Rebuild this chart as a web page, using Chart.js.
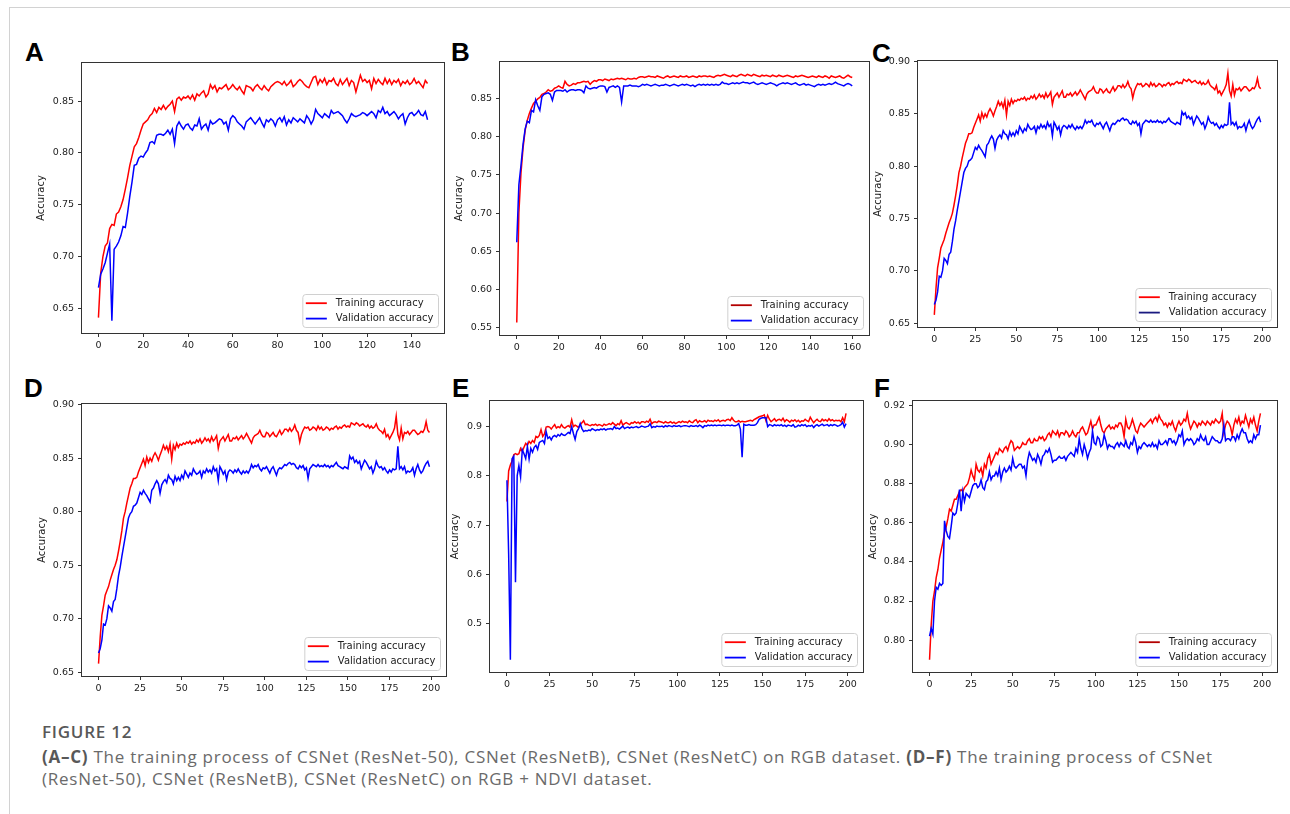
<!DOCTYPE html>
<html>
<head>
<meta charset="utf-8">
<title>Figure 12</title>
<script src="https://cdn.jsdelivr.net/npm/chart.js@4.4.1/dist/chart.umd.min.js"></script>
<style>
  html, body { margin: 0; padding: 0; background: #fff; }
  body { width: 1290px; height: 814px; position: relative; overflow: hidden; }
  .rule-top { position: absolute; left: 9px; top: 7px; width: 1281px; height: 1px; background: #d2d2d2; }
  .rule-left { position: absolute; left: 9px; top: 7px; width: 1px; height: 807px; background: #d2d2d2; }
  canvas { position: absolute; }
  .letter { position: absolute; font: bold 26px "Liberation Sans", Arial, sans-serif; line-height: 26px; color: #000; }
  .caption { position: absolute; left: 42px; font-family: "Open Sans", sans-serif; font-size: 17px; line-height: 22px; letter-spacing: 0.75px; color: #6a6a6a; white-space: nowrap; }
  .caption b { color: #585858; font-weight: 700; }
  .fig-no { font-weight: 600; color: #585858; }
</style>
</head>
<body>
<div class="rule-top"></div>
<div class="rule-left"></div>

<div class="letter" style="left:25px;top:39px">A</div>
<div class="letter" style="left:451px;top:39px">B</div>
<div class="letter" style="left:872px;top:40px">C</div>
<div class="letter" style="left:24px;top:375px">D</div>
<div class="letter" style="left:452px;top:375px">E</div>
<div class="letter" style="left:874px;top:375px">F</div>

<canvas id="chart-a"></canvas>
<canvas id="chart-b"></canvas>
<canvas id="chart-c"></canvas>
<canvas id="chart-d"></canvas>
<canvas id="chart-e"></canvas>
<canvas id="chart-f"></canvas>

<div class="caption fig-no" style="top:721px">FIGURE 12</div>
<div class="caption" style="top:746px"><b>(A–C)</b> The training process of CSNet (ResNet-50), CSNet (ResNetB), CSNet (ResNetC) on RGB dataset. <b>(D–F)</b> The training process of CSNet<br>(ResNet-50), CSNet (ResNetB), CSNet (ResNetC) on RGB + NDVI dataset.</div>

<script>
'use strict';

// accuracy per epoch
var aTrain = [.641,.684,.700,.710,.713,.727,.731,.730,.741,.743,
    .748,.755,.765,.776,.788,.797,.806,.809,.815,.822,
    .828,.830,.832,.836,.838,.843,.839,.844,.842,.846,
    .842,.845,.847,.850,.840,.852,.854,.851,.854,.853,
    .855,.852,.856,.851,.857,.855,.858,.860,.854,.857,
    .866,.862,.865,.859,.863,.862,.864,.866,.861,.863,
    .866,.863,.861,.864,.860,.857,.865,.864,.863,.860,
    .864,.866,.863,.861,.865,.862,.860,.864,.866,.868,
    .869,.868,.866,.869,.865,.867,.870,.864,.866,.869,
    .871,.869,.866,.864,.863,.868,.873,.874,.866,.871,
    .868,.872,.866,.870,.869,.872,.867,.865,.871,.866,
    .869,.872,.865,.870,.868,.859,.867,.875,.869,.871,
    .868,.870,.862,.872,.867,.871,.868,.866,.872,.867,
    .871,.866,.870,.868,.871,.865,.869,.867,.870,.866,
    .868,.872,.867,.869,.866,.863,.870,.867];
var aVal = [.670,.683,.688,.694,.703,.712,.638,.707,.710,.714,
    .720,.729,.728,.742,.758,.772,.788,.789,.795,.797,
    .796,.800,.803,.810,.811,.809,.817,.818,.818,.817,
    .819,.822,.818,.823,.809,.826,.830,.826,.823,.827,
    .828,.824,.822,.827,.826,.833,.823,.826,.828,.822,
    .831,.828,.829,.831,.833,.832,.828,.830,.822,.833,
    .836,.834,.830,.828,.826,.823,.830,.832,.834,.831,
    .828,.831,.834,.829,.825,.832,.830,.833,.831,.826,
    .832,.834,.830,.835,.827,.832,.829,.834,.832,.830,
    .833,.831,.829,.836,.833,.828,.832,.842,.838,.836,
    .834,.838,.836,.834,.841,.838,.839,.840,.838,.836,
    .832,.829,.833,.838,.836,.835,.836,.837,.839,.838,
    .836,.838,.840,.838,.834,.841,.839,.844,.838,.840,
    .836,.838,.840,.837,.833,.836,.838,.828,.834,.838,
    .839,.836,.838,.841,.837,.836,.840,.832];

var bTrain = [.557,.700,.752,.785,.808,.821,.830,.837,.843,.846,
    .849,.851,.855,.856,.858,.861,.859,.860,.863,.864,
    .866,.864,.863,.872,.868,.866,.867,.869,.868,.870,
    .870,.871,.872,.871,.872,.868,.871,.873,.872,.874,
    .874,.873,.875,.874,.873,.875,.874,.875,.876,.875,
    .876,.875,.874,.876,.875,.875,.876,.875,.877,.878,
    .878,.877,.878,.879,.878,.878,.877,.879,.878,.877,
    .876,.878,.879,.877,.878,.879,.878,.877,.879,.878,
    .878,.879,.877,.878,.879,.878,.877,.879,.878,.879,
    .879,.878,.879,.878,.877,.879,.880,.879,.880,.881,
    .880,.879,.878,.880,.879,.878,.880,.881,.880,.879,
    .881,.880,.879,.881,.880,.879,.878,.880,.879,.880,
    .879,.878,.880,.879,.878,.880,.879,.878,.879,.880,
    .879,.878,.877,.879,.878,.879,.880,.879,.878,.877,
    .878,.879,.878,.877,.879,.878,.877,.879,.878,.876,
    .879,.878,.877,.878,.879,.877,.876,.878,.880,.878,.877];
var bVal = [.662,.737,.762,.790,.810,.820,.818,.834,.832,.848,
    .840,.834,.852,.855,.856,.857,.855,.847,.858,.860,
    .860,.860,.859,.861,.858,.860,.861,.861,.860,.861,
    .861,.860,.857,.866,.863,.862,.863,.864,.863,.865,
    .866,.866,.865,.858,.864,.865,.866,.864,.866,.864,
    .845,.866,.866,.866,.867,.866,.866,.866,.865,.866,
    .868,.867,.868,.867,.866,.867,.868,.867,.866,.867,
    .867,.868,.867,.866,.867,.868,.867,.866,.867,.868,
    .867,.868,.867,.866,.867,.865,.867,.868,.867,.868,
    .867,.868,.867,.868,.867,.868,.867,.868,.871,.869,
    .869,.868,.869,.870,.869,.870,.869,.870,.871,.870,
    .870,.869,.870,.871,.869,.868,.869,.870,.869,.868,
    .869,.870,.869,.868,.866,.868,.869,.870,.869,.870,
    .869,.868,.869,.870,.868,.867,.868,.869,.867,.868,
    .867,.866,.865,.867,.868,.867,.868,.867,.868,.869,
    .868,.869,.871,.869,.868,.867,.866,.868,.869,.868,.866];

var cTrain = [.658,.683,.703,.712,.722,.726,.730,.736,.741,.746,
    .750,.755,.763,.772,.782,.794,.800,.808,.815,.822,
    .826,.831,.831,.832,.837,.841,.845,.849,.843,.851,
    .846,.850,.847,.852,.855,.852,.848,.853,.857,.862,
    .858,.861,.856,.863,.849,.862,.858,.864,.860,.863,
    .862,.864,.863,.865,.864,.866,.863,.865,.864,.867,
    .865,.868,.864,.866,.869,.866,.868,.865,.870,.866,
    .868,.871,.859,.866,.868,.870,.866,.869,.872,.866,
    .866,.869,.868,.870,.867,.869,.871,.868,.870,.873,
    .870,.867,.864,.869,.871,.872,.873,.876,.872,.870,
    .870,.874,.873,.870,.872,.874,.871,.870,.873,.876,
    .872,.874,.877,.877,.875,.878,.875,.877,.881,.876,
    .874,.865,.872,.876,.879,.878,.879,.876,.877,.879,
    .878,.876,.880,.877,.879,.876,.877,.879,.878,.876,
    .878,.877,.879,.880,.877,.879,.878,.880,.881,.879,
    .880,.879,.883,.882,.881,.883,.882,.880,.881,.882,
    .880,.879,.881,.878,.880,.878,.879,.882,.878,.876,
    .875,.873,.877,.870,.872,.868,.871,.874,.878,.889,
    .872,.867,.878,.868,.874,.873,.875,.872,.874,.876,
    .876,.874,.872,.873,.875,.874,.877,.884,.876,.874];
var cVal = [.668,.672,.680,.695,.694,.700,.712,.710,.707,.716,
    .718,.728,.740,.748,.758,.767,.776,.785,.794,.798,
    .800,.805,.806,.808,.813,.818,.816,.820,.817,.815,
    .812,.809,.820,.822,.826,.829,.826,.817,.825,.828,
    .830,.827,.834,.831,.830,.826,.833,.829,.832,.829,
    .834,.831,.838,.835,.832,.836,.834,.840,.837,.835,
    .836,.838,.832,.838,.836,.840,.837,.839,.836,.842,
    .838,.840,.829,.842,.839,.835,.838,.830,.837,.839,
    .838,.836,.839,.837,.840,.837,.835,.838,.836,.838,
    .836,.839,.844,.841,.843,.842,.844,.840,.838,.841,
    .840,.842,.839,.836,.840,.842,.838,.834,.839,.841,
    .840,.842,.844,.843,.845,.846,.844,.845,.844,.841,
    .840,.843,.841,.843,.839,.841,.831,.840,.842,.844,
    .843,.842,.844,.842,.843,.842,.844,.842,.843,.841,
    .843,.842,.844,.846,.843,.842,.841,.840,.842,.841,
    .840,.852,.849,.851,.846,.848,.845,.847,.840,.844,
    .848,.846,.843,.840,.842,.836,.840,.847,.843,.841,
    .842,.839,.841,.838,.836,.839,.837,.840,.839,.840,
    .861,.840,.842,.839,.842,.836,.838,.837,.838,.841,
    .834,.840,.844,.839,.836,.838,.842,.845,.847,.842];

// panel D in the published figure repeats the curves of panel C
var dTrain = cTrain;
var dVal = cVal;

var eTrain = [.748,.810,.822,.830,.843,.845,.843,.845,.856,.850,
    .858,.866,.862,.870,.866,.872,.868,.880,.878,.882,
    .894,.880,.885,.899,.900,.899,.895,.900,.904,.897,
    .900,.898,.904,.899,.897,.900,.902,.899,.914,.900,
    .903,.901,.898,.904,.908,.912,.904,.905,.903,.902,
    .904,.903,.905,.902,.904,.903,.901,.905,.903,.904,
    .906,.904,.908,.905,.902,.906,.904,.912,.903,.906,
    .908,.906,.904,.908,.907,.910,.907,.909,.906,.910,
    .910,.908,.911,.909,.915,.906,.909,.910,.908,.911,
    .910,.909,.907,.910,.908,.908,.910,.907,.909,.906,
    .908,.910,.908,.911,.909,.910,.908,.912,.909,.908,
    .912,.914,.908,.912,.910,.910,.912,.909,.913,.911,
    .912,.910,.913,.911,.914,.910,.912,.913,.911,.914,
    .915,.912,.918,.913,.910,.910,.912,.909,.911,.910,
    .910,.911,.912,.913,.911,.914,.916,.918,.920,.921,
    .922,.924,.912,.923,.915,.910,.913,.916,.911,.914,
    .915,.912,.917,.910,.914,.912,.909,.913,.911,.914,
    .910,.913,.909,.912,.911,.915,.912,.910,.919,.913,
    .908,.912,.915,.911,.910,.915,.912,.914,.911,.916,
    .912,.914,.911,.913,.912,.913,.910,.918,.910,.927];
var eVal = [.791,.640,.427,.835,.840,.584,.800,.821,.798,.853,
    .845,.835,.860,.834,.856,.848,.858,.862,.854,.868,
    .870,.872,.866,.890,.876,.879,.873,.880,.882,.879,
    .884,.881,.886,.883,.882,.885,.888,.886,.900,.886,
    .874,.890,.896,.906,.896,.890,.892,.891,.893,.892,
    .896,.894,.892,.894,.893,.895,.894,.896,.893,.895,
    .895,.896,.894,.900,.896,.897,.895,.898,.901,.896,
    .898,.899,.897,.899,.898,.899,.900,.898,.899,.901,
    .900,.899,.900,.901,.906,.898,.900,.899,.901,.900,
    .900,.901,.899,.902,.900,.902,.901,.900,.902,.901,
    .901,.902,.900,.901,.902,.902,.901,.900,.902,.901,
    .901,.902,.900,.903,.901,.898,.902,.901,.903,.902,
    .903,.902,.903,.902,.903,.903,.902,.903,.902,.903,
    .903,.902,.903,.902,.902,.903,.906,.895,.838,.905,
    .903,.903,.904,.903,.903,.903,.904,.908,.915,.917,
    .918,.918,.918,.900,.904,.903,.901,.904,.902,.903,
    .902,.904,.901,.903,.900,.903,.902,.901,.904,.899,
    .900,.903,.901,.904,.902,.904,.900,.902,.901,.903,
    .898,.902,.904,.901,.903,.905,.902,.903,.904,.901,
    .904,.902,.904,.903,.901,.902,.904,.909,.899,.906];

var fTrain = [.790,.808,.820,.825,.832,.836,.842,.846,.850,.855,
    .858,.862,.867,.866,.869,.872,.872,.874,.876,.877,
    .876,.878,.879,.880,.883,.887,.884,.882,.890,.887,
    .886,.888,.884,.890,.888,.893,.895,.890,.892,.894,
    .896,.895,.898,.897,.896,.898,.899,.897,.900,.902,
    .901,.897,.898,.899,.898,.899,.901,.900,.900,.902,
    .903,.901,.901,.903,.902,.902,.904,.903,.904,.902,
    .903,.905,.906,.904,.907,.906,.905,.907,.904,.906,
    .906,.905,.907,.906,.904,.905,.907,.905,.904,.906,
    .906,.908,.909,.907,.905,.906,.909,.912,.908,.910,
    .910,.912,.914,.910,.907,.906,.908,.909,.910,.908,
    .909,.908,.910,.909,.911,.911,.909,.904,.913,.909,
    .908,.910,.913,.910,.907,.906,.909,.911,.910,.909,
    .910,.911,.912,.913,.911,.913,.914,.912,.915,.913,
    .912,.910,.911,.909,.911,.910,.912,.909,.907,.910,
    .912,.910,.911,.913,.912,.916,.911,.908,.910,.912,
    .911,.909,.911,.910,.912,.911,.910,.912,.911,.910,
    .912,.911,.913,.912,.911,.912,.916,.906,.910,.912,
    .911,.909,.905,.910,.913,.911,.914,.910,.912,.911,
    .915,.912,.909,.913,.911,.914,.910,.907,.912,.916];
var fVal = [.802,.806,.803,.820,.827,.826,.829,.828,.829,.861,
    .856,.853,.852,.858,.865,.864,.865,.870,.877,.866,
    .876,.871,.875,.874,.873,.876,.879,.880,.880,.878,
    .879,.882,.878,.877,.881,.882,.886,.882,.884,.884,
    .886,.884,.888,.882,.886,.888,.886,.887,.889,.887,
    .893,.889,.888,.889,.890,.890,.888,.889,.884,.892,
    .896,.894,.892,.893,.891,.895,.893,.890,.894,.895,
    .897,.896,.898,.895,.891,.892,.892,.893,.894,.893,
    .893,.894,.892,.894,.895,.896,.895,.894,.898,.896,
    .903,.898,.895,.900,.897,.893,.896,.898,.907,.901,
    .900,.904,.903,.899,.900,.905,.902,.898,.900,.899,
    .899,.898,.900,.901,.899,.901,.900,.899,.902,.899,
    .898,.901,.900,.904,.901,.896,.899,.898,.900,.901,
    .900,.899,.900,.899,.901,.899,.900,.898,.902,.900,
    .900,.901,.902,.900,.903,.903,.901,.902,.900,.902,
    .905,.904,.907,.900,.902,.903,.902,.903,.902,.900,
    .901,.903,.902,.905,.903,.902,.904,.900,.900,.902,
    .904,.903,.902,.902,.901,.901,.903,.910,.902,.903,
    .903,.902,.904,.904,.902,.905,.903,.906,.908,.906,
    .906,.903,.901,.902,.901,.905,.903,.905,.905,.910];

// tick labels
var xTicks150 = [0, 20, 40, 60, 80, 100, 120, 140];
var xTicks160 = [0, 20, 40, 60, 80, 100, 120, 140, 160];
var xTicks200 = [0, 25, 50, 75, 100, 125, 150, 175, 200];
var yTicksA = [0.65, 0.70, 0.75, 0.80, 0.85];
var yTicksB = [0.55, 0.60, 0.65, 0.70, 0.75, 0.80, 0.85];
var yTicksC = [0.65, 0.70, 0.75, 0.80, 0.85, 0.90];
var yTicksE = [0.5, 0.6, 0.7, 0.8, 0.9];
var yTicksF = [0.80, 0.82, 0.84, 0.86, 0.88, 0.90, 0.92];

var seriesNames = ['Training accuracy', 'Validation accuracy'];

Chart.defaults.font.family = '"DejaVu Sans", sans-serif';

var AXIS_W = 62, AXIS_H = 28, PAD_T = 12, PAD_R = 10;

var roundedBox = function(ctx, x, y, w, h, r) {
    ctx.beginPath();
    ctx.moveTo(x + r, y);
    ctx.lineTo(x + w - r, y);
    ctx.arcTo(x + w, y, x + w, y + r, r);
    ctx.lineTo(x + w, y + h - r);
    ctx.arcTo(x + w, y + h, x + w - r, y + h, r);
    ctx.lineTo(x + r, y + h);
    ctx.arcTo(x, y + h, x, y + h - r, r);
    ctx.lineTo(x, y + r);
    ctx.arcTo(x, y, x + r, y, r);
    ctx.closePath();
};

// axes frame + matplotlib-style legend in the lower right corner
var framePlugin = {
    id: 'frameAndLegend',
    afterDatasetsDraw: function(chart) {
        var ctx = chart.ctx, a = chart.chartArea;
        var sets = chart.data.datasets;
        ctx.save();
        ctx.strokeStyle = '#333';
        ctx.lineWidth = 1;
        ctx.strokeRect(a.left - 0.5, a.top - 0.5, a.right - a.left + 1, a.bottom - a.top + 1);

        ctx.font = '10px "DejaVu Sans", sans-serif';
        var textW = 0;
        sets.forEach(function(ds) { textW = Math.max(textW, ctx.measureText(ds.label).width); });
        var w = 33 + textW + 5, h = 33;
        var x = a.right - 5.5 - w, y = a.bottom - 5.5 - h;
        roundedBox(ctx, x, y, w, h, 3);
        ctx.fillStyle = 'rgba(255,255,255,0.8)';
        ctx.fill();
        ctx.strokeStyle = '#d0d0d0';
        ctx.stroke();
        sets.forEach(function(ds, i) {
            var cy = y + 8.7 + i * 15.4;
            ctx.beginPath();
            ctx.moveTo(x + 3, cy);
            ctx.lineTo(x + 24, cy);
            ctx.strokeStyle = ds.legendColor || ds.borderColor;
            ctx.lineWidth = 1.8;
            ctx.stroke();
            ctx.fillStyle = '#222';
            ctx.textBaseline = 'middle';
            ctx.textAlign = 'left';
            ctx.fillText(ds.label, x + 33, cy);
        });
        ctx.restore();
    }
};

var makePanel = function(id, box, train, val, xTicks, yTicks, digits, titlePad, legendColors) {
    var canvas = document.getElementById(id);
    var w = box[2] - box[0] + AXIS_W + PAD_R;
    var h = box[3] - box[1] + PAD_T + AXIS_H;
    canvas.width = w;
    canvas.height = h;
    canvas.style.width = w + 'px';
    canvas.style.height = h + 'px';
    canvas.style.left = (box[0] - AXIS_W) + 'px';
    canvas.style.top = (box[1] - PAD_T) + 'px';

    // matplotlib default 5% margins around the data
    var n = train.length - 1;
    var lo = Math.min(Math.min.apply(null, train), Math.min.apply(null, val));
    var hi = Math.max(Math.max.apply(null, train), Math.max.apply(null, val));
    var m = (hi - lo) * 0.05;

    var toPoints = function(arr) {
        return arr.map(function(v, i) { return {x: i, y: v}; });
    };

    return new Chart(canvas.getContext('2d'), {
        type: 'line',
        data: {
            datasets: [
                {label: seriesNames[0], data: toPoints(train), borderColor: '#ff0000', legendColor: legendColors[0], order: 1},
                {label: seriesNames[1], data: toPoints(val), borderColor: '#0000ff', legendColor: legendColors[1], order: 0}
            ]
        },
        options: {
            responsive: false,
            animation: false,
            devicePixelRatio: 1,
            layout: {padding: {top: PAD_T, right: PAD_R, left: 0, bottom: 0}},
            elements: {point: {radius: 0}, line: {borderWidth: 1.5, tension: 0}},
            plugins: {legend: {display: false}, tooltip: {enabled: false}},
            scales: {
                x: {
                    type: 'linear',
                    min: -0.05 * n,
                    max: n * 1.05,
                    afterFit: function(s) { s.height = AXIS_H; },
                    afterBuildTicks: function(s) { s.ticks = xTicks.map(function(v) { return {value: v}; }); },
                    grid: {drawOnChartArea: false, tickLength: 4, color: '#333', tickColor: '#333'},
                    border: {display: false},
                    ticks: {autoSkip: false, maxRotation: 0, padding: 3, color: '#222', font: {size: 9.5},
                        callback: function(v) { return String(v); }}
                },
                y: {
                    type: 'linear',
                    min: lo - m,
                    max: hi + m,
                    afterFit: function(s) { s.width = AXIS_W; },
                    afterBuildTicks: function(s) { s.ticks = yTicks.map(function(v) { return {value: v}; }); },
                    grid: {drawOnChartArea: false, tickLength: 4, color: '#333', tickColor: '#333'},
                    border: {display: false},
                    ticks: {padding: 4, color: '#222', font: {size: 9.5},
                        callback: function(v) { return v.toFixed(digits); }},
                    title: {display: true, text: 'Accuracy', color: '#222', font: {size: 10},
                        padding: {top: titlePad, bottom: 0}}
                }
            }
        },
        plugins: [framePlugin]
    });
};

makePanel('chart-a', [82, 63, 444, 333], aTrain, aVal, xTicks150, yTicksA, 2, 15, ['#ff0000', '#0000ff']);
makePanel('chart-b', [500, 62, 869, 335], bTrain, bVal, xTicks160, yTicksB, 2, 15, ['#b30000', '#0000ff']);
makePanel('chart-c', [918, 61, 1277, 327], cTrain, cVal, xTicks200, yTicksC, 2, 16.5, ['#ff0000', '#1a1a80']);
makePanel('chart-d', [82, 404, 446, 676], dTrain, dVal, xTicks200, yTicksC, 2, 16, ['#ff0000', '#0000ff']);
makePanel('chart-e', [490, 401, 863, 672], eTrain, eVal, xTicks200, yTicksE, 1, 21.5, ['#ff0000', '#0000ff']);
makePanel('chart-f', [913, 401, 1277, 672], fTrain, fVal, xTicks200, yTicksF, 2, 16.5, ['#b30000', '#0000ff']);
</script>
</body>
</html>
